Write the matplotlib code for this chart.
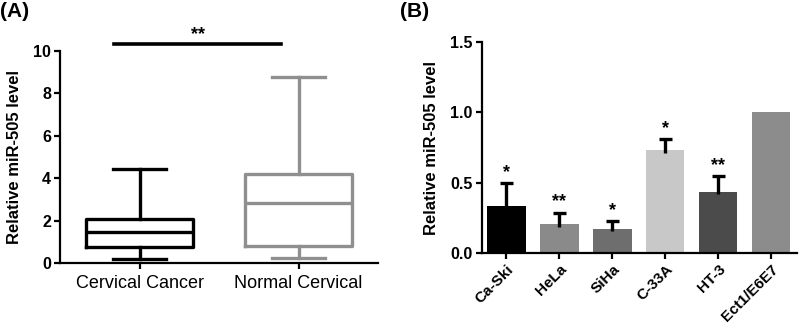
import matplotlib.pyplot as plt

plt.rcParams['font.family'] = ['Liberation Sans', 'DejaVu Sans']

# Panel A: box plot summary values
groups = ["Cervical Cancer", "Normal Cervical"]
whisker_low = [0.19, 0.25]
q1 = [0.77, 0.82]
median = [1.45, 2.82]
q3 = [2.10, 4.20]
whisker_high = [4.42, 8.76]
box_colors = ["#000000", "#8f8f8f"]

# Panel B: bar values with upper error bars
cells = ["Ca-Ski", "HeLa", "SiHa", "C-33A", "HT-3", "Ect1/E6E7"]
levels = [0.335, 0.208, 0.175, 0.733, 0.437, 1.0]
errors = [0.165, 0.080, 0.054, 0.075, 0.111, 0.0]
stars = ["*", "**", "*", "*", "**", ""]
bar_colors = ["#000000", "#8a8a8a", "#6e6e6e", "#c8c8c8", "#4b4b4b", "#8c8c8c"]

fig = plt.figure(figsize=(8, 3.26), dpi=100)

def style_axes(ax):
    for s in ["top", "right"]:
        ax.spines[s].set_visible(False)
    for s in ["left", "bottom"]:
        ax.spines[s].set_linewidth(1.6)
    ax.tick_params(width=1.6, length=4.5, pad=2, direction="out")

# ---- (A) ----
axA = fig.add_axes([0.075, 0.193, 0.3975, 0.651])
for i, g in enumerate(groups):
    stats = [{"med": median[i], "q1": q1[i], "q3": q3[i],
              "whislo": whisker_low[i], "whishi": whisker_high[i], "label": g}]
    c = box_colors[i]
    lp = dict(color=c, linewidth=2.4)
    axA.bxp(stats, positions=[i], widths=0.67, showfliers=False,
            boxprops=lp, whiskerprops=lp, capprops=lp, medianprops=lp,
            capwidths=0.33)
axA.set_xlim(-0.5, 1.5)
axA.set_ylim(0, 10)
axA.set_yticks([0, 2, 4, 6, 8, 10])
axA.set_xticks([0, 1])
axA.set_xticklabels(groups, fontsize=13)
for t in axA.get_yticklabels():
    t.set_fontweight("bold")
    t.set_fontsize(11.5)
axA.set_ylabel("Relative miR-505 level", fontsize=12, fontweight="bold", labelpad=8)
style_axes(axA)
axA.tick_params(axis="x", pad=4)
axA.plot([-0.16, 0.89], [10.3, 10.3], color="black", linewidth=2.6, clip_on=False)
axA.text(0.37, 10.35, "**", ha="center", va="bottom", fontsize=13, fontweight="bold")
fig.text(0.0, 0.995, "(A)", ha="left", va="top", fontsize=15, fontweight="bold")

# ---- (B) ----
axB = fig.add_axes([0.602, 0.223, 0.394, 0.649])
x = list(range(len(cells)))
axB.bar(x, levels, width=0.72, color=bar_colors, zorder=2)
for i in x:
    if errors[i] > 0:
        top = levels[i] + errors[i]
        axB.vlines(i, levels[i] - 0.02, top, color="black", linewidth=2.4, zorder=3)
        axB.hlines(top, i - 0.13, i + 0.13, color="black", linewidth=2.4, zorder=3)
    if stars[i]:
        axB.text(i, levels[i] + errors[i] + 0.015, stars[i], ha="center",
                 va="bottom", fontsize=13, fontweight="bold")
axB.set_xlim(-0.47, 5.48)
axB.set_ylim(0, 1.5)
axB.set_yticks([0, 0.5, 1.0, 1.5])
axB.set_yticklabels(["0.0", "0.5", "1.0", "1.5"], fontsize=11.5, fontweight="bold")
axB.set_xticks(x)
axB.set_xticklabels(cells, rotation=45, ha="right", rotation_mode="anchor",
                    fontsize=11, fontweight="bold")
axB.set_ylabel("Relative miR-505 level", fontsize=12, fontweight="bold", labelpad=8)
style_axes(axB)
axB.tick_params(axis="x", pad=2)
fig.text(0.5, 0.995, "(B)", ha="left", va="top", fontsize=15, fontweight="bold")

fig.savefig("out.png", dpi=100)
